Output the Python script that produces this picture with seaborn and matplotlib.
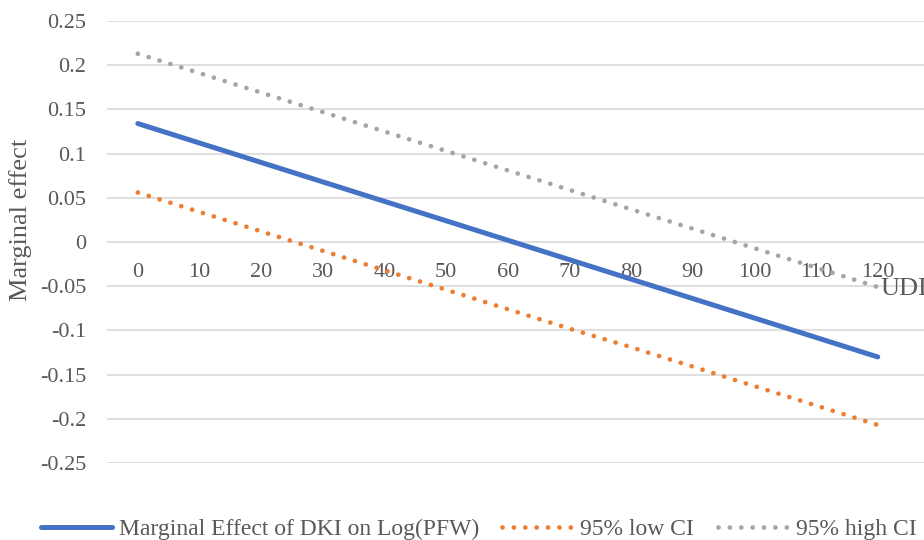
import matplotlib
matplotlib.use("Agg")
import matplotlib.pyplot as plt
import seaborn as sns
import pandas as pd

udi = [0, 10, 20, 30, 40, 50, 60, 70, 80, 90, 100, 110, 120]
marginal = [0.134, 0.112, 0.090, 0.068, 0.046, 0.024, 0.002, -0.020, -0.042, -0.064, -0.086, -0.108, -0.130]
low_ci = [0.056, 0.034, 0.012, -0.010, -0.032, -0.054, -0.076, -0.098, -0.119, -0.141, -0.163, -0.185, -0.207]
high_ci = [0.213, 0.191, 0.169, 0.147, 0.125, 0.103, 0.081, 0.059, 0.037, 0.015, -0.007, -0.029, -0.051]
y_ticks = [-0.25, -0.2, -0.15, -0.1, -0.05, 0, 0.05, 0.1, 0.15, 0.2, 0.25]
y_labels = ["-0.25", "-0.2", "-0.15", "-0.1", "-0.05", "0", "0.05", "0.1", "0.15", "0.2", "0.25"]

df = pd.DataFrame({"UDI": udi, "marginal": marginal, "low": low_ci, "high": high_ci})

sns.set_style("white")
plt.rcParams["font.family"] = ["Liberation Serif", "DejaVu Serif"]
text_col = "#595959"

fig = plt.figure(figsize=(9.24, 5.4), dpi=100)
ax = fig.add_axes([0.1158, 0.1426, 0.8842, 0.8185])

sns.lineplot(data=df, x="UDI", y="marginal", ax=ax, color="#4472C4", lw=3.6,
             solid_capstyle="round", label="Marginal Effect of DKI on Log(PFW)", clip_on=False)
sns.lineplot(data=df, x="UDI", y="low", ax=ax, color="#ED7D31", lw=3.4,
             linestyle=(0, (0.01, 2.4)), dash_capstyle="round", label="95% low CI", clip_on=False)
sns.lineplot(data=df, x="UDI", y="high", ax=ax, color="#A5A5A5", lw=3.4,
             linestyle=(0, (0.01, 2.4)), dash_capstyle="round", label="95% high CI", clip_on=False)

ax.set_xlim(-5.0, 127.5)
ax.set_ylim(-0.25, 0.25)
ax.set_yticks(y_ticks)
ax.set_yticklabels(y_labels)
ax.set_xticks(udi)
ax.set_xticklabels([str(v) for v in udi])
ax.grid(axis="y", color="#D9D9D9", lw=1.2)
ax.grid(axis="x", visible=False)
ax.set_axisbelow(True)
for s in ["top", "right", "left"]:
    ax.spines[s].set_visible(False)
ax.spines["bottom"].set_position(("data", 0))
ax.spines["bottom"].set_visible(False)
ax.tick_params(axis="x", length=0, pad=15, labelsize=16, labelcolor=text_col)
ax.tick_params(axis="y", length=0, pad=15, labelsize=16, labelcolor=text_col)
ax.set_xlabel("")
ax.set_ylabel("Marginal effect", fontsize=19, color=text_col)
ax.yaxis.set_label_coords(-0.092, 0.55)
ax.text(120.5, -0.053, "UDI", fontsize=19, color=text_col, ha="left", va="center")

ax.legend_.remove()
handles, labels = ax.get_legend_handles_labels()
fig.legend(handles, labels, loc="lower center", bbox_to_anchor=(0.518, -0.04), ncol=3,
           frameon=False, fontsize=17, labelcolor=text_col, handlelength=3.0,
           handletextpad=0.3, columnspacing=1.0)

fig.savefig("out.png", dpi=100)
